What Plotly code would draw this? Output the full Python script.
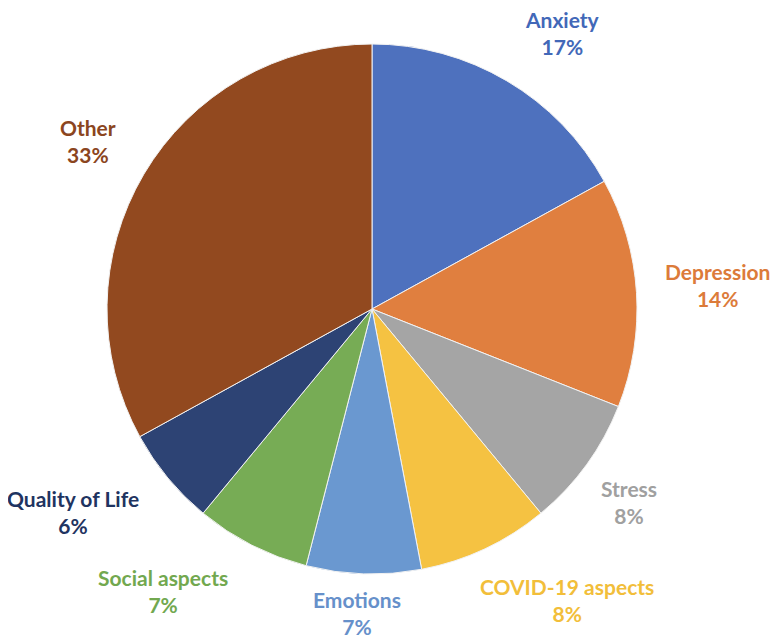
import plotly.graph_objects as go

labels = ["Anxiety", "Depression", "Stress", "COVID-19 aspects", "Emotions",
          "Social aspects", "Quality of Life", "Other"]
values = [17, 14, 8, 8, 7, 7, 6, 33]
colors = ["#4E71BE", "#E07F3F", "#A5A5A5", "#F5C242", "#6A98D0",
          "#77AC55", "#2D4374", "#92491F"]
text_colors = ["#4268B8", "#DC7B3A", "#A0A0A0", "#F2BE3A", "#6690CA",
               "#72A84F", "#1F3461", "#8B4520"]

# label placement (paper coords), tuned to match the reference layout
label_pos = [(0.7115, 0.961), (0.910, 0.5685), (0.796, 0.2305), (0.7167, 0.078),
             (0.4474, 0.0576), (0.1987, 0.092), (0.0833, 0.215), (0.1026, 0.793)]

# page body adds an 8px offset, so the pie domain is nudged back
cx, cy, r = 364, 341, 265
fig = go.Figure()
fig.add_trace(go.Pie(
    labels=labels, values=values, sort=False, direction="clockwise",
    rotation=0, marker=dict(colors=colors, line=dict(color="#F2F2F2", width=1)),
    textinfo="none", hoverinfo="label+percent",
    domain=dict(x=[(cx - r) / 780, (cx + r) / 780],
                y=[(cy - r) / 642, (cy + r) / 642]),
))

for lab, val, col, (px, py) in zip(labels, values, text_colors, label_pos):
    fig.add_annotation(x=px, y=py, xref="paper", yref="paper",
                       xanchor="center", yanchor="middle",
                       text=f"<b>{lab}<br>{val}%</b>", showarrow=False,
                       font=dict(family="Lato", size=21, color=col),
                       align="center")

fig.update_layout(width=780, height=642, showlegend=False,
                  margin=dict(l=0, r=0, t=0, b=0),
                  paper_bgcolor="white", plot_bgcolor="white")

fig.write_html("out.html")
